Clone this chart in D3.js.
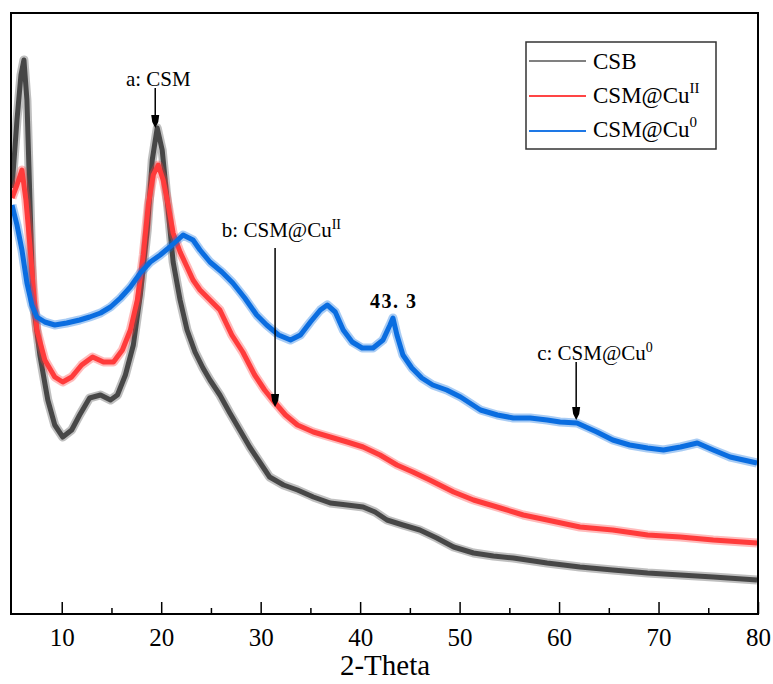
<!DOCTYPE html>
<html><head><meta charset="utf-8">
<script src="https://cdn.jsdelivr.net/npm/d3@7"></script>
<style>body{margin:0;background:#fff}svg{display:block}</style>
</head><body><svg id="c" width="773" height="684"></svg>
<script>
// ---- data (2-theta in degrees, intensity in arbitrary units) ----
const seriesNames = ["CSB", "CSM@Cu", "CSM@Cu"];
const seriesSup = ["", "II", "0"];
const csbData = [[5.0,426],[5.5,494],[5.9,539],[6.2,554],[6.5,514],[6.8,414],[7.1,314],[7.8,259],[8.6,214],[9.3,189],[10.1,177],[11.0,184],[11.8,199],[12.8,216],[13.9,219],[14.9,214],[15.6,219],[16.4,239],[17.2,269],[17.9,319],[18.6,384],[19.1,454],[19.6,486],[20.1,464],[20.6,414],[21.2,352],[21.9,314],[22.6,284],[23.4,262],[24.2,246],[24.9,234],[25.9,219],[26.9,201],[27.9,184],[28.9,167],[29.9,152],[30.9,137],[32.3,129],[33.7,124],[35.3,117],[37.0,111],[38.7,109],[40.3,107],[41.5,102],[42.7,94],[44.3,89],[46.0,84],[47.7,76],[49.4,67],[51.4,61],[53.4,58],[55.4,56],[58.8,51],[62.1,47],[65.4,44],[68.9,41],[72.2,39],[75.5,37],[79.9,34]];
const cuIIData = [[5.0,416],[5.5,429],[6.0,444],[6.4,414],[6.8,369],[7.1,331],[7.5,284],[8.3,254],[9.3,237],[10.1,232],[11.0,237],[12.0,249],[13.1,257],[14.2,252],[15.2,252],[16.1,264],[16.9,284],[17.6,314],[18.2,359],[18.7,409],[19.2,439],[19.7,449],[20.2,434],[20.7,409],[21.2,381],[21.9,362],[22.6,347],[23.2,334],[23.9,324],[24.9,314],[25.9,304],[27.1,279],[28.2,262],[29.4,239],[30.4,224],[31.2,214],[32.5,199],[33.7,189],[35.3,182],[37.0,177],[38.7,172],[40.3,167],[42.0,159],[43.7,149],[45.3,142],[47.0,134],[49.4,122],[51.4,114],[54.1,106],[56.4,99],[58.8,94],[62.1,87],[65.4,84],[68.9,79],[72.2,77],[75.5,74],[79.9,71]];
const cu0Data = [[5.0,409],[5.5,389],[6.0,364],[6.5,331],[7.0,309],[7.5,297],[8.3,292],[9.3,289],[10.5,291],[11.8,294],[12.8,297],[13.9,301],[14.9,307],[15.9,316],[16.9,327],[17.9,341],[18.9,352],[19.9,359],[21.1,369],[22.2,379],[23.2,374],[23.9,364],[24.9,352],[26.1,342],[27.2,331],[28.4,316],[29.6,299],[30.6,289],[31.8,279],[33.0,274],[34.0,279],[35.0,292],[36.0,304],[36.7,309],[37.5,302],[38.3,284],[39.2,272],[40.2,266],[41.3,266],[42.3,274],[43.0,289],[43.3,296],[43.7,279],[44.3,259],[45.2,246],[46.2,236],[47.3,229],[48.7,224],[50.1,217],[52.1,204],[53.8,199],[55.4,196],[57.1,196],[58.8,194],[60.1,192],[61.8,191],[63.8,182],[65.4,174],[67.1,169],[68.9,166],[70.5,164],[72.2,167],[73.9,171],[75.5,164],[77.2,157],[79.9,151]];
const majorTicks = [10,20,30,40,50,60,70,80];
const minorTicks = [15,25,35,45,55,65,75];
const xTitle = "2-Theta";
// annotations: label, sup, label position (theta, intensity), arrow theta, arrow top/bottom intensity
const annotations = [
  {label:"a: CSM", sup:"", tx:16.45, ty:528, ax:19.4, a0:526, a1:486},
  {label:"b: CSM@Cu", sup:"II", tx:26.1, ty:377, ax:31.45, a0:366, a1:207},
  {label:"c: CSM@Cu", sup:"0", tx:57.8, ty:254, ax:61.72, a0:252, a1:194}
];
const peakLabel = {text:"43. 3", x:41.0, y:306};

// ---- layout ----
const L = 12, R = 758, T = 13, B = 614;
const x = d3.scaleLinear().domain([5,80]).range([L,R]);
const y = d3.scaleLinear().domain([0,601]).range([B,T]);
const svg = d3.select("#c");
const serif = "'Liberation Serif','Times New Roman',serif";

svg.append("defs").append("clipPath").attr("id","clip")
  .append("rect").attr("x",L).attr("y",T).attr("width",R-L).attr("height",B-T);

const colors = ["#474747","#ff3b3b","#0a6de0"];
const legendColors = ["#808080","#ff4545","#1e78e6"];
const line = d3.line().x(d=>x(d[0])).y(d=>y(d[1])).curve(d3.curveLinear);
const g = svg.append("g").attr("clip-path","url(#clip)");
[csbData, cuIIData, cu0Data].forEach((data,i)=>{
  g.append("path").datum(data).attr("d",line).attr("fill","none")
    .attr("stroke",colors[i]).attr("stroke-width",9).attr("stroke-opacity",0.35)
    .attr("stroke-linejoin","round");
  g.append("path").datum(data).attr("d",line).attr("fill","none")
    .attr("stroke",colors[i]).attr("stroke-width",5)
    .attr("stroke-linejoin","round");
});

// frame
svg.append("rect").attr("x",L-1).attr("y",T).attr("width",R-L+1).attr("height",B-T)
  .attr("fill","none").attr("stroke","#000").attr("stroke-width",2);

// axes
const ax = svg.append("g").attr("transform",`translate(0,${B})`)
  .call(d3.axisBottom(x).tickValues(majorTicks).tickSize(-12).tickPadding(14).tickFormat(d3.format("d")));
ax.select(".domain").remove();
ax.selectAll(".tick line").attr("stroke","#000").attr("stroke-width",1.5);
ax.selectAll(".tick text").attr("font-family",serif).attr("font-size",25).attr("fill","#000");
const mx = svg.append("g").attr("transform",`translate(0,${B})`)
  .call(d3.axisBottom(x).tickValues(minorTicks).tickSize(-6).tickFormat(""));
mx.select(".domain").remove();
mx.selectAll(".tick line").attr("stroke","#000").attr("stroke-width",1.5);

svg.append("text").attr("x",(x(5)+x(80))/2).attr("y",675).attr("text-anchor","middle")
  .attr("font-family",serif).attr("font-size",29).text(xTitle);

// annotations
annotations.forEach(a=>{
  const t = svg.append("text").attr("x",x(a.tx)).attr("y",y(a.ty))
    .attr("font-family",serif).attr("font-size",21).attr("fill","#000").text(a.label);
  if(a.sup) t.append("tspan").attr("dy",-8).attr("font-size",14).text(a.sup);
  const xx = x(a.ax), y0 = y(a.a0), y1 = y(a.a1);
  svg.append("line").attr("x1",xx).attr("x2",xx).attr("y1",y0).attr("y2",y1-10)
    .attr("stroke","#000").attr("stroke-width",1.5);
  svg.append("path").attr("d",`M${xx-4},${y1-13}L${xx+4},${y1-13}L${xx+3},${y1-6}L${xx},${y1}L${xx-3},${y1-6}Z`)
    .attr("fill","#000");
});
svg.append("text").attr("x",x(peakLabel.x)).attr("y",y(peakLabel.y))
  .attr("font-family",serif).attr("font-size",20).attr("font-weight","bold")
  .attr("letter-spacing",1.5).text(peakLabel.text);

// legend
const lg = svg.append("g");
lg.append("rect").attr("x",526).attr("y",42).attr("width",190).attr("height",107)
  .attr("fill","#fff").attr("stroke","#333").attr("stroke-width",1.5);
seriesNames.forEach((n,i)=>{
  const ly = 61 + i*35;
  lg.append("line").attr("x1",529).attr("x2",586).attr("y1",ly).attr("y2",ly)
    .attr("stroke",legendColors[i]).attr("stroke-width",2);
  const t = lg.append("text").attr("x",593).attr("y",69+i*34)
    .attr("font-family",serif).attr("font-size",23).attr("fill","#000").text(n);
  if(seriesSup[i]) t.append("tspan").attr("dy",-10).attr("font-size",15).text(seriesSup[i]);
});
</script></body></html>
